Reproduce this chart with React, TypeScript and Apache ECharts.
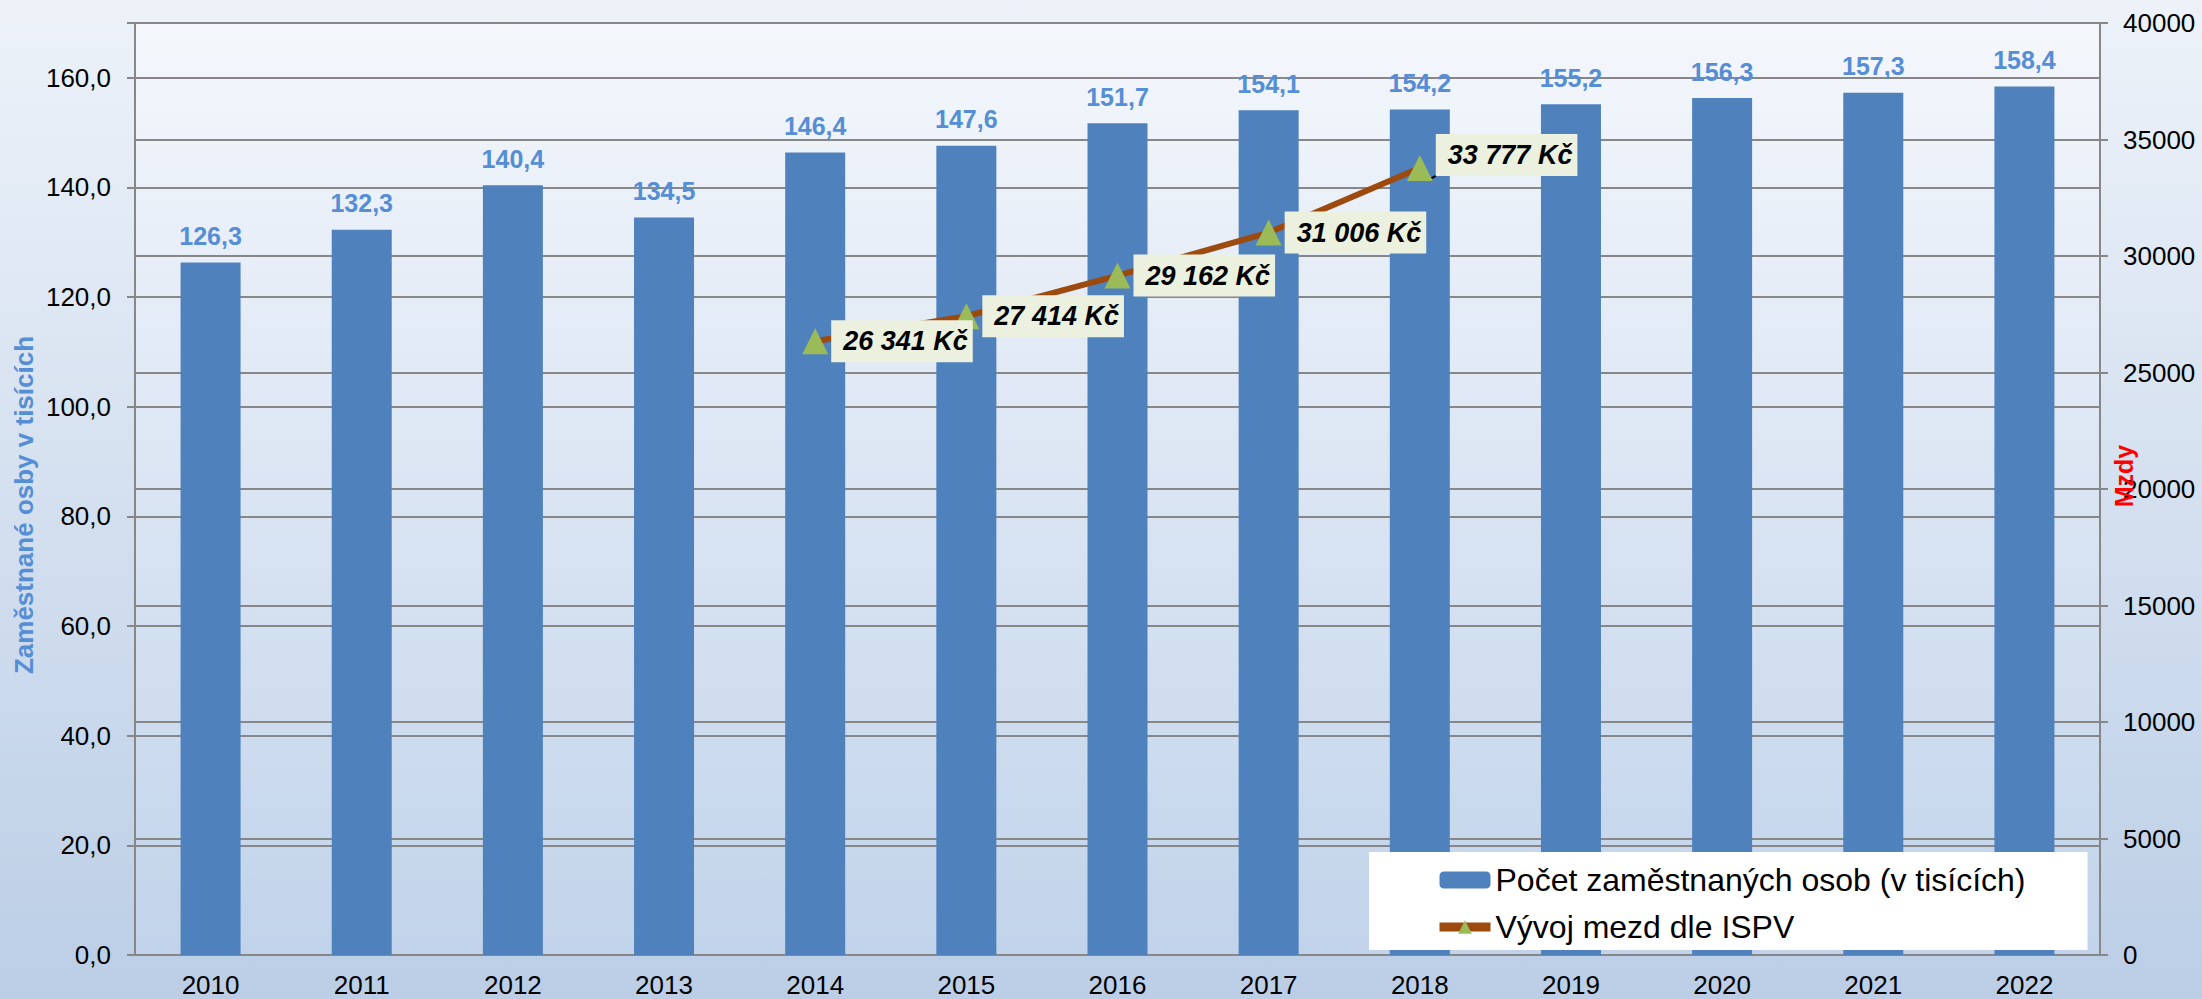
import React, { useEffect, useRef } from 'react';
import * as echarts from 'echarts';

const years = ['2010', '2011', '2012', '2013', '2014', '2015', '2016', '2017', '2018', '2019', '2020', '2021', '2022'];
const employees = [126.3, 132.3, 140.4, 134.5, 146.4, 147.6, 151.7, 154.1, 154.2, 155.2, 156.3, 157.3, 158.4];
const wages = [null, null, null, null, 26341, 27414, 29162, 31006, 33777, null, null, null, null];
const seriesNames = ['Počet zaměstnaných osob (v tisících)', 'Vývoj mezd dle ISPV'];
const leftAxisTitle = 'Zaměstnané osby v tisících';
const rightAxisTitle = 'Mzdy';

const FONT = '"Liberation Sans", Arial, sans-serif';

const fmtComma = (v: number) => v.toFixed(1).replace('.', ',');
const fmtKc = (v: number) => String(Math.round(v)).replace(/\B(?=(\d{3})+(?!\d))/g, ' ') + ' Kč';

export default function App() {
  const ref = useRef<HTMLDivElement>(null);
  useEffect(() => {
    document.body.style.margin = '0';
    const chart = echarts.init(ref.current!, null, { renderer: 'svg' });
    const gridColor = '#878787';
    const wageData = wages.map((v, i) => {
      if (v === null) return null;
      if (i === 8) {
        return {
          value: v,
          label: { offset: [0, -13] },
          labelLine: { show: true, lineStyle: { color: '#000', width: 2 } },
        };
      }
      return v;
    });
    chart.setOption({
      animation: false,
      backgroundColor: new echarts.graphic.LinearGradient(0, 0, 0, 1, [
        { offset: 0, color: '#EDF2F9' },
        { offset: 1, color: '#BBCEE6' },
      ]),
      textStyle: { fontFamily: FONT },
      grid: {
        left: 135,
        right: 102,
        top: 23,
        bottom: 44,
        show: true,
        borderWidth: 0,
        backgroundColor: new echarts.graphic.LinearGradient(0, 0, 0, 1, [
          { offset: 0, color: '#F4F7FC' },
          { offset: 1, color: '#C1D3EA' },
        ]),
      },
      legend: {
        orient: 'vertical',
        left: 1369,
        top: 852,
        backgroundColor: '#FFFFFF',
        padding: [10, 62, 5, 66],
        itemWidth: 51,
        itemHeight: 17,
        itemGap: 11,
        data: [
          { name: seriesNames[0] },
          { name: seriesNames[1], lineStyle: { width: 9, color: '#9C4A0E' } },
        ],
        textStyle: { fontFamily: FONT, fontSize: 32, color: '#000', lineHeight: 36 },
      },
      xAxis: {
        type: 'category',
        data: years,
        axisLine: { lineStyle: { color: gridColor, width: 2 } },
        axisTick: { show: false },
        axisLabel: { color: '#000', fontSize: 26, fontFamily: FONT, margin: 17 },
      },
      yAxis: [
        {
          type: 'value',
          min: 0,
          max: 170,
          interval: 20,
          axisLine: { show: true, lineStyle: { color: gridColor, width: 2 } },
          axisTick: { show: true, inside: false, length: 8, lineStyle: { color: gridColor, width: 2 } },
          axisLabel: {
            color: '#000',
            fontSize: 26,
            fontFamily: FONT,
            margin: 24,
            formatter: (v: number) => (v > 160 ? '' : fmtComma(v)),
          },
          splitLine: { show: true, lineStyle: { color: gridColor, width: 2 } },
        },
        {
          type: 'value',
          min: 0,
          max: 40000,
          interval: 5000,
          position: 'right',
          axisLine: { show: true, lineStyle: { color: gridColor, width: 2 } },
          axisTick: { show: true, inside: false, length: 8, lineStyle: { color: gridColor, width: 2 } },
          axisLabel: {
            color: '#000',
            fontSize: 26,
            fontFamily: FONT,
            margin: 23,
            formatter: (v: number) => String(v),
          },
          splitLine: { show: true, lineStyle: { color: gridColor, width: 2 } },
        },
      ],
      series: [
        {
          name: seriesNames[0],
          type: 'bar',
          data: employees,
          barWidth: 60,
          itemStyle: { color: '#4F81BD' },
          label: {
            show: true,
            position: 'top',
            distance: 14,
            color: '#558ED5',
            fontWeight: 'bold',
            fontSize: 25,
            fontFamily: FONT,
            formatter: (p: any) => fmtComma(p.value),
          },
          z: 2,
        },
        {
          name: seriesNames[1],
          type: 'line',
          yAxisIndex: 1,
          data: wageData,
          connectNulls: false,
          symbol: 'triangle',
          symbolSize: [26, 26],
          itemStyle: { color: '#9BBB59' },
          lineStyle: { color: '#9C4A0E', width: 6 },
          label: {
            show: true,
            position: 'right',
            distance: 3,
            color: '#000',
            fontStyle: 'italic',
            fontWeight: 'bold',
            fontSize: 27,
            lineHeight: 29,
            fontFamily: FONT,
            backgroundColor: '#EBF1DE',
            padding: [7, 5, 6, 12],
            formatter: (p: any) => fmtKc(Array.isArray(p.value) ? p.value[1] : p.value),
          },
          z: 5,
        },
      ],
      graphic: [
        {
          type: 'text',
          x: 24,
          y: 505,
          rotation: Math.PI / 2,
          style: {
            text: leftAxisTitle,
            fill: '#558ED5',
            font: `bold 26px ${FONT}`,
            align: 'center',
            verticalAlign: 'middle',
          },
        },
        {
          type: 'text',
          x: 2124,
          y: 476,
          rotation: Math.PI / 2,
          z: 10,
          style: {
            text: rightAxisTitle,
            fill: '#FF0000',
            font: `bold 25px ${FONT}`,
            align: 'center',
            verticalAlign: 'middle',
          },
        },
      ],
    });
    return () => chart.dispose();
  }, []);
  return <div ref={ref} style={{ position: 'absolute', left: 0, top: 0, width: 2202, height: 999 }} />;
}
